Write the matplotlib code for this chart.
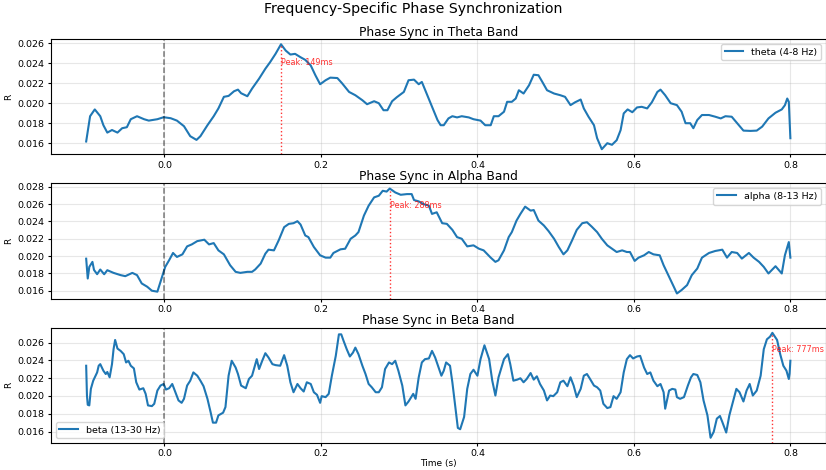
import numpy as np
import matplotlib
matplotlib.use("Agg")
import matplotlib.pyplot as plt
from matplotlib.ticker import MultipleLocator, FormatStrFormatter

# phase-locking value R over time, one trace per band
theta_t = [-0.100, -0.097, -0.095, -0.089, -0.082, -0.078, -0.073, -0.067, -0.060, -0.054,
           -0.048, -0.043, -0.035, -0.026, -0.020, -0.009, -0.001, 0.008, 0.016, 0.025,
           0.033, 0.041, 0.046, 0.055, 0.063, 0.069, 0.076, 0.082, 0.089, 0.094,
           0.098, 0.106, 0.112, 0.121, 0.129, 0.135, 0.142, 0.149, 0.155, 0.161,
           0.167, 0.174, 0.180, 0.187, 0.193, 0.199, 0.206, 0.212, 0.221, 0.227,
           0.236, 0.244, 0.253, 0.259, 0.268, 0.274, 0.280, 0.285, 0.291, 0.297,
           0.306, 0.312, 0.319, 0.325, 0.329, 0.336, 0.342, 0.349, 0.353, 0.357,
           0.363, 0.368, 0.374, 0.380, 0.389, 0.395, 0.404, 0.410, 0.417, 0.421,
           0.427, 0.434, 0.438, 0.444, 0.449, 0.453, 0.459, 0.466, 0.472, 0.478,
           0.483, 0.489, 0.498, 0.506, 0.512, 0.519, 0.525, 0.532, 0.536, 0.542,
           0.549, 0.553, 0.559, 0.566, 0.572, 0.578, 0.583, 0.587, 0.592, 0.598,
           0.604, 0.610, 0.617, 0.623, 0.630, 0.634, 0.640, 0.647, 0.655, 0.661,
           0.666, 0.672, 0.676, 0.681, 0.687, 0.696, 0.704, 0.711, 0.717, 0.725,
           0.732, 0.740, 0.749, 0.757, 0.764, 0.772, 0.781, 0.789, 0.793, 0.796,
           0.798, 0.800]
theta_r = [0.01617, 0.0177, 0.0187, 0.01938, 0.0187, 0.0178, 0.01706, 0.01732, 0.01706, 0.0175,
           0.0176, 0.0184, 0.0187, 0.0184, 0.01826, 0.0184, 0.0186, 0.0185, 0.01826, 0.0177,
           0.0167, 0.01633, 0.0167, 0.0178, 0.0187, 0.01948, 0.02064, 0.02073, 0.0212, 0.02136,
           0.0210, 0.0207, 0.02146, 0.02246, 0.02345, 0.0241, 0.02494, 0.0259, 0.02527, 0.02487,
           0.02494, 0.0246, 0.02434, 0.02378, 0.02279, 0.0219, 0.0223, 0.02256, 0.02252, 0.0220,
           0.02113, 0.0208, 0.0203, 0.0199, 0.0202, 0.0200, 0.0193, 0.0193, 0.0202, 0.0206,
           0.02113, 0.0223, 0.02236, 0.0219, 0.02213, 0.0208, 0.01964, 0.01832, 0.0178, 0.0178,
           0.01848, 0.0187, 0.01858, 0.0187, 0.01858, 0.0184, 0.01826, 0.0178, 0.0178, 0.0187,
           0.0187, 0.01915, 0.02014, 0.02014, 0.02047, 0.0213, 0.02097, 0.0218, 0.02285, 0.0228,
           0.02213, 0.0213, 0.02097, 0.0208, 0.02064, 0.01981, 0.0201, 0.02037, 0.01948, 0.01865,
           0.0178, 0.0165, 0.0154, 0.0160, 0.01584, 0.0163, 0.0173, 0.01898, 0.01938, 0.0191,
           0.01958, 0.01964, 0.01948, 0.0201, 0.02113, 0.02136, 0.0208, 0.0200, 0.01981, 0.01915,
           0.0180, 0.0180, 0.0175, 0.01832, 0.01882, 0.01882, 0.01865, 0.01848, 0.0187, 0.01865,
           0.0180, 0.01726, 0.01723, 0.01726, 0.01766, 0.01848, 0.01905, 0.01938, 0.0198, 0.02047,
           0.02014, 0.0165]

alpha_t = [-0.100, -0.098, -0.096, -0.092, -0.090, -0.086, -0.082, -0.077, -0.073, -0.065,
           -0.056, -0.050, -0.041, -0.035, -0.029, -0.022, -0.016, -0.009, -0.005, 0.001,
           0.006, 0.011, 0.016, 0.023, 0.029, 0.035, 0.042, 0.051, 0.057, 0.063,
           0.069, 0.076, 0.084, 0.091, 0.097, 0.106, 0.112, 0.116, 0.123, 0.129,
           0.133, 0.140, 0.146, 0.153, 0.159, 0.165, 0.170, 0.174, 0.180, 0.184,
           0.191, 0.199, 0.206, 0.212, 0.216, 0.225, 0.231, 0.238, 0.244, 0.248,
           0.255, 0.261, 0.268, 0.274, 0.279, 0.284, 0.288, 0.295, 0.302, 0.310,
           0.316, 0.319, 0.325, 0.331, 0.338, 0.342, 0.348, 0.355, 0.361, 0.368,
           0.374, 0.380, 0.387, 0.395, 0.402, 0.408, 0.417, 0.423, 0.427, 0.434,
           0.440, 0.444, 0.450, 0.455, 0.461, 0.468, 0.472, 0.478, 0.485, 0.491,
           0.498, 0.504, 0.510, 0.515, 0.521, 0.527, 0.534, 0.540, 0.546, 0.553,
           0.559, 0.566, 0.572, 0.578, 0.585, 0.591, 0.595, 0.601, 0.606, 0.613,
           0.619, 0.625, 0.633, 0.638, 0.645, 0.651, 0.655, 0.661, 0.668, 0.674,
           0.681, 0.687, 0.696, 0.704, 0.713, 0.719, 0.725, 0.732, 0.738, 0.747,
           0.753, 0.760, 0.766, 0.772, 0.781, 0.789, 0.793, 0.798, 0.800]
alpha_r = [0.0197, 0.01741, 0.01875, 0.01933, 0.0184, 0.01791, 0.01845, 0.0179, 0.01837, 0.01806,
           0.0178, 0.01768, 0.01806, 0.0178, 0.01684, 0.01646, 0.0160, 0.01589, 0.01703, 0.01875,
           0.01952, 0.02036, 0.0199, 0.0202, 0.02112, 0.02135, 0.02173, 0.02189, 0.02135, 0.0215,
           0.02066, 0.0202, 0.01894, 0.01818, 0.01806, 0.01818, 0.01818, 0.01845, 0.01913, 0.02028,
           0.02074, 0.02066, 0.02181, 0.02334, 0.02372, 0.0238, 0.02403, 0.02364, 0.02238, 0.02219,
           0.02105, 0.02009, 0.01982, 0.01982, 0.02036, 0.02078, 0.02085, 0.0220, 0.02238, 0.02277,
           0.02468, 0.02582, 0.02678, 0.02697, 0.02754, 0.02745, 0.0278, 0.02735, 0.02708, 0.02716,
           0.02716, 0.02647, 0.02632, 0.02601, 0.02582, 0.02487, 0.02506, 0.0238, 0.02372, 0.02303,
           0.02219, 0.0220, 0.02112, 0.02124, 0.02085, 0.02066, 0.01982, 0.01933, 0.01952, 0.02066,
           0.02219, 0.02277, 0.0241, 0.02487, 0.02571, 0.02525, 0.02532, 0.0241, 0.02353, 0.02288,
           0.0220, 0.02105, 0.0202, 0.02066, 0.02181, 0.02303, 0.0238, 0.02391, 0.02341, 0.02277,
           0.0220, 0.02124, 0.02085, 0.02047, 0.02066, 0.02047, 0.02047, 0.01944, 0.01982, 0.02009,
           0.02047, 0.0202, 0.02009, 0.01894, 0.01761, 0.01646, 0.01568, 0.01608, 0.01665, 0.0178,
           0.01856, 0.01982, 0.02036, 0.02059, 0.02074, 0.01982, 0.02047, 0.02036, 0.01971, 0.02036,
           0.01982, 0.01933, 0.01875, 0.01799, 0.01883, 0.01799, 0.02009, 0.02162, 0.01982]

beta_t = [-0.100, -0.099, -0.098, -0.096, -0.094, -0.091, -0.088, -0.086, -0.084, -0.082,
          -0.078, -0.075, -0.073, -0.070, -0.067, -0.065, -0.063, -0.060, -0.056, -0.052,
          -0.049, -0.046, -0.043, -0.039, -0.036, -0.032, -0.027, -0.024, -0.021, -0.016,
          -0.013, -0.009, -0.005, -0.001, 0.002, 0.006, 0.010, 0.014, 0.018, 0.022,
          0.025, 0.029, 0.033, 0.037, 0.042, 0.046, 0.050, 0.055, 0.059, 0.062,
          0.066, 0.069, 0.075, 0.078, 0.082, 0.086, 0.091, 0.094, 0.098, 0.104,
          0.108, 0.112, 0.118, 0.121, 0.125, 0.129, 0.133, 0.138, 0.142, 0.148,
          0.153, 0.157, 0.161, 0.165, 0.170, 0.174, 0.178, 0.182, 0.187, 0.191,
          0.195, 0.199, 0.201, 0.206, 0.210, 0.214, 0.219, 0.223, 0.226, 0.229,
          0.233, 0.237, 0.241, 0.244, 0.248, 0.253, 0.257, 0.261, 0.265, 0.270,
          0.274, 0.278, 0.282, 0.287, 0.291, 0.295, 0.299, 0.304, 0.308, 0.312,
          0.318, 0.321, 0.325, 0.329, 0.333, 0.338, 0.342, 0.346, 0.351, 0.354,
          0.357, 0.360, 0.365, 0.368, 0.372, 0.375, 0.378, 0.383, 0.387, 0.391,
          0.395, 0.400, 0.404, 0.409, 0.415, 0.419, 0.423, 0.427, 0.434, 0.439,
          0.442, 0.446, 0.451, 0.455, 0.459, 0.463, 0.468, 0.472, 0.476, 0.480,
          0.485, 0.489, 0.493, 0.497, 0.502, 0.506, 0.510, 0.515, 0.519, 0.523,
          0.527, 0.532, 0.536, 0.540, 0.544, 0.549, 0.553, 0.557, 0.561, 0.566,
          0.570, 0.574, 0.578, 0.583, 0.587, 0.591, 0.595, 0.599, 0.604, 0.608,
          0.613, 0.617, 0.621, 0.625, 0.630, 0.634, 0.638, 0.640, 0.645, 0.649,
          0.653, 0.655, 0.659, 0.664, 0.669, 0.673, 0.676, 0.681, 0.685, 0.689,
          0.694, 0.698, 0.702, 0.706, 0.710, 0.713, 0.718, 0.722, 0.727, 0.731,
          0.735, 0.740, 0.744, 0.748, 0.752, 0.757, 0.762, 0.766, 0.770, 0.774,
          0.777, 0.783, 0.787, 0.791, 0.795, 0.798, 0.799, 0.800]
beta_r = [0.0234, 0.02005, 0.01901, 0.01894, 0.0208, 0.02172, 0.02228, 0.02265, 0.0234, 0.02358,
          0.02284, 0.02247, 0.0227, 0.0221, 0.02358, 0.02526, 0.0263, 0.02533, 0.02507, 0.0247,
          0.02377, 0.02396, 0.0234, 0.0231, 0.02154, 0.02072, 0.02087, 0.02024, 0.01894, 0.01886,
          0.01912, 0.02061, 0.02117, 0.02135, 0.02072, 0.02087, 0.02135, 0.02042, 0.0195, 0.01923,
          0.01968, 0.02117, 0.02172, 0.02265, 0.02228, 0.02172, 0.0211, 0.01968, 0.01819, 0.0170,
          0.0170, 0.01782, 0.01812, 0.01875, 0.02228, 0.02396, 0.0232, 0.02247, 0.02117, 0.02087,
          0.02191, 0.02228, 0.02414, 0.02303, 0.02396, 0.02481, 0.02433, 0.02358, 0.02347, 0.0234,
          0.02459, 0.0234, 0.02154, 0.02042, 0.02135, 0.02087, 0.0205, 0.02154, 0.02135, 0.02042,
          0.02013, 0.01923, 0.01998, 0.01987, 0.02024, 0.02228, 0.02451, 0.02693, 0.02693, 0.02619,
          0.02526, 0.02444, 0.02488, 0.02544, 0.0247, 0.0234, 0.02247, 0.02135, 0.02098, 0.02042,
          0.02042, 0.02098, 0.02303, 0.02377, 0.02358, 0.02396, 0.02284, 0.02117, 0.01894, 0.01938,
          0.02024, 0.01968, 0.0221, 0.02377, 0.02414, 0.02422, 0.02507, 0.02433, 0.02303, 0.02228,
          0.02284, 0.02377, 0.0234, 0.02154, 0.01857, 0.01641, 0.01626, 0.01764, 0.0208, 0.02247,
          0.02295, 0.02228, 0.02414, 0.0257, 0.02414, 0.02172, 0.02005, 0.0221, 0.02414, 0.0247,
          0.02358, 0.02172, 0.02184, 0.02199, 0.02154, 0.02191, 0.02258, 0.02184, 0.02221, 0.02135,
          0.02061, 0.0195, 0.02005, 0.01998, 0.02042, 0.02154, 0.02172, 0.0211, 0.0221, 0.02117,
          0.01987, 0.0208, 0.02228, 0.02247, 0.02191, 0.02117, 0.02098, 0.02061, 0.01912, 0.01864,
          0.01875, 0.01998, 0.01968, 0.02042, 0.02265, 0.02414, 0.02459, 0.02422, 0.02444, 0.02451,
          0.0232, 0.02247, 0.02265, 0.02172, 0.0211, 0.02135, 0.02042, 0.01857, 0.02061, 0.0208,
          0.02072, 0.01987, 0.01968, 0.01987, 0.02117, 0.0221, 0.02247, 0.02236, 0.02154, 0.0195,
          0.01782, 0.0153, 0.01596, 0.01745, 0.01775, 0.01708, 0.01589, 0.01782, 0.0195, 0.0208,
          0.02042, 0.01938, 0.02061, 0.02135, 0.02005, 0.02061, 0.02228, 0.02526, 0.02637, 0.02667,
          0.0271, 0.0263, 0.0247, 0.0234, 0.02284, 0.02191, 0.0225, 0.02396]

band_labels = ["theta (4-8 Hz)", "alpha (8-13 Hz)", "beta (13-30 Hz)"]
titles = ["Phase Sync in Theta Band", "Phase Sync in Alpha Band", "Phase Sync in Beta Band"]
times = [theta_t, alpha_t, beta_t]
values = [theta_r, alpha_r, beta_r]
legend_loc = ["upper right", "upper right", "lower left"]

fig, axes = plt.subplots(3, 1, figsize=(8.26, 4.7), dpi=100)
fig.subplots_adjust(left=0.0617, right=0.9995, top=0.917, bottom=0.0574, hspace=0.25)
fig.suptitle("Frequency-Specific Phase Synchronization", fontsize=10.2, y=0.995)

for ax, t, r, lab, ttl, loc in zip(axes, times, values, band_labels, titles, legend_loc):
    t = np.array(t)
    r = np.array(r)
    ax.plot(t, r, color="#1f77b4", lw=1.5, label=lab)
    ax.axvline(0, color="k", ls="--", alpha=0.5, lw=1.1)

    i = np.argmax(r)
    y0, y1 = ax.get_ylim()
    ax.vlines(t[i], y0, r[i], colors="r", linestyles=":", lw=1.0, alpha=0.8)
    ax.set_ylim(y0, y1)
    ax.text(t[i], r[i] * 0.93, f"Peak: {t[i] * 1000:.0f}ms", color="r",
            fontsize=5.8, va="center", alpha=0.8)

    ax.set_title(ttl, fontsize=8.8, pad=2.5)
    ax.set_ylabel("R", fontsize=6.5, labelpad=3)
    ax.set_xticks([0.0, 0.2, 0.4, 0.6, 0.8])
    ax.yaxis.set_major_locator(MultipleLocator(0.002))
    ax.yaxis.set_major_formatter(FormatStrFormatter("%.3f"))
    ax.tick_params(labelsize=6.8, length=2.5, pad=2)
    ax.grid(True, alpha=0.3)
    ax.legend(loc=loc, fontsize=6.8, handlelength=2.0)

axes[-1].set_xlabel("Time (s)", fontsize=6.5, labelpad=0.5)

fig.savefig("out.png", dpi=100)
